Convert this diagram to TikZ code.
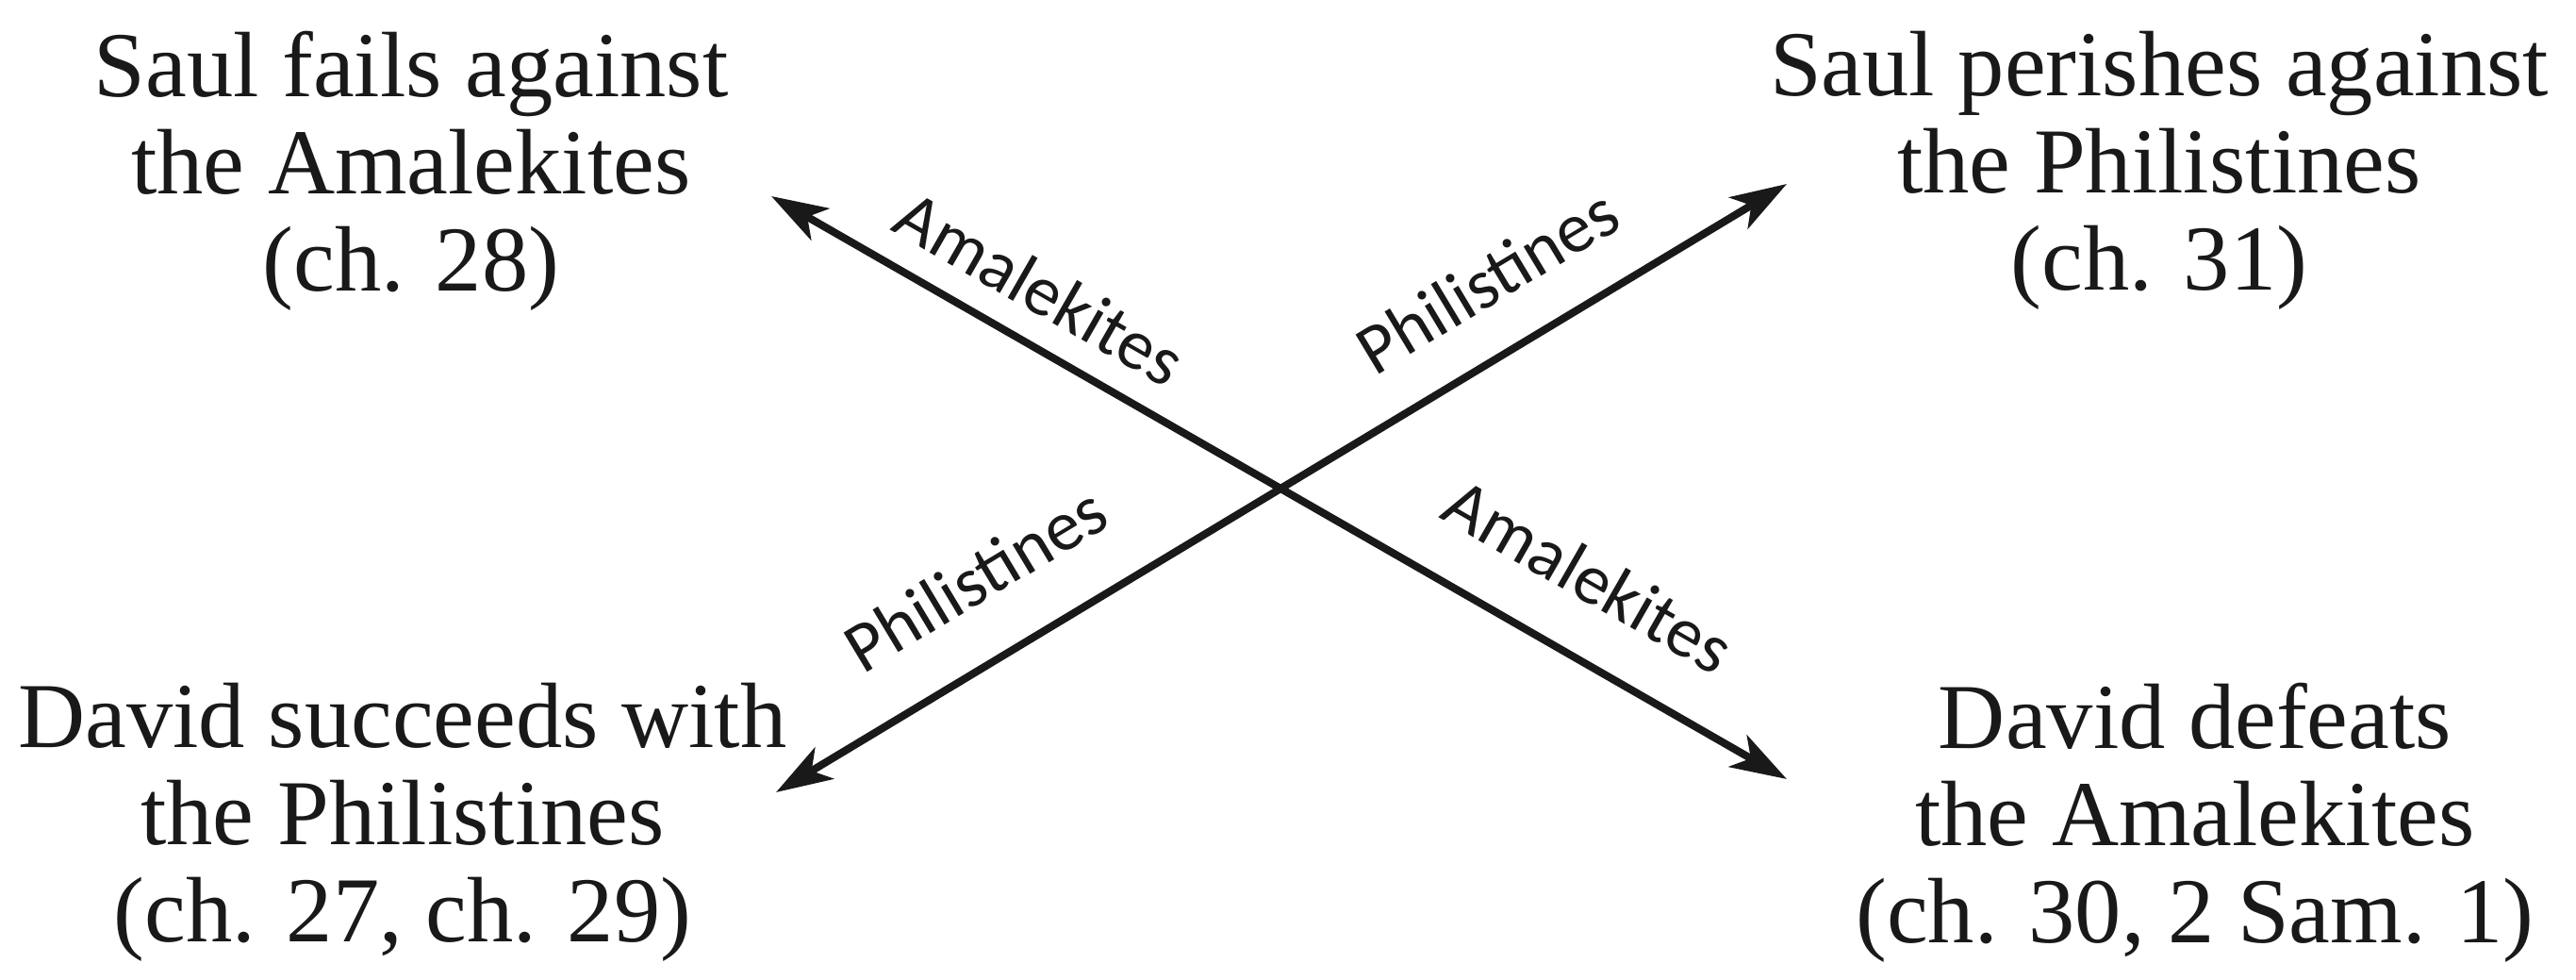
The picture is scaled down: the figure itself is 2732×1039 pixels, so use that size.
\documentclass[tikz,border=0pt]{standalone}
\usepackage{fontspec}
\setmainfont{Liberation Serif}
\newfontfamily\labelfont{Carlito}
\usetikzlibrary{arrows.meta}
\begin{document}
\begin{tikzpicture}[x=0.01cm,y=-0.01cm,
  blocktext/.style={align=center, inner sep=0pt, text=black!90, font=\fontsize{28}{29.3}\selectfont},
  arr/.style={line width=2.3pt, draw=black!90, {Stealth[length=17pt,width=11pt,inset=4.5pt]}-{Stealth[length=17pt,width=11pt,inset=4.5pt]}},
  lbl/.style={sloped, inner sep=0pt, text=black!90, font=\labelfont\fontsize{21.5}{21.5}\selectfont}]
\useasboundingbox (0,0) rectangle (2732,1039);
\fill[white] (0,0) rectangle (2732,1039);

\node[blocktext] (tl) at (436,181) {Saul fails against\\the Amalekites\\(ch. 28)};
\node[blocktext] (tr) at (2290,181) {Saul perishes against\\the Philistines\\(ch. 31)};
\node[blocktext] (bl) at (427,872) {David succeeds with\\the Philistines\\(ch. 27, ch. 29)};
\node[blocktext] (br) at (2328,872) {David defeats\\the Amalekites\\(ch. 30, 2 Sam. 1)};

\coordinate (aUL) at (818,208);
\coordinate (aLR) at (1895,826);
\coordinate (pLL) at (823,840);
\coordinate (pUR) at (1895,195);

\draw[arr] (aUL) -- node[lbl, pos=0.238, above=7.7pt] {Amalekites}
                    node[lbl, pos=0.767, above=14.8pt] {Amalekites} (aLR);
\draw[arr] (pLL) -- node[lbl, pos=0.238, above=15.6pt] {Philistines}
                    node[lbl, pos=0.74, above=13pt] {Philistines} (pUR);
\end{tikzpicture}
\end{document}
